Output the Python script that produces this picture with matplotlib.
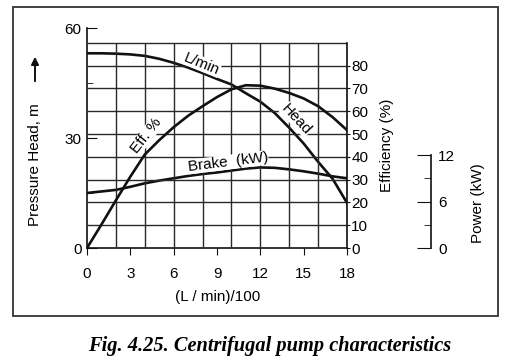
import numpy as np
import matplotlib
matplotlib.use("Agg")
import matplotlib.pyplot as plt
from matplotlib.patches import Rectangle, FancyArrowPatch

plt.rcParams['font.family'] = ['Liberation Sans', 'DejaVu Sans']

# flow in (L/min)/100
flow = [0, 1, 2, 3, 4, 5, 6, 7, 8, 9, 10, 11, 12, 13, 14, 15, 16, 17, 18]
# pressure head, m
head = [53.1, 53.1, 53.0, 52.8, 52.4, 51.6, 50.5, 49.2, 47.7, 46.1,
        44.6, 42.2, 39.9, 36.8, 32.8, 28.5, 23.5, 18.9, 12.3]
# efficiency, %
eff = [0, 10.3, 20.9, 31.3, 41.0, 47.3, 53.0, 58.0, 62.2, 66.2,
       69.6, 71.4, 71.2, 69.9, 68.0, 65.6, 62.2, 57.4, 51.7]
# brake power, kW
brake = [7.1, 7.3, 7.5, 7.9, 8.35, 8.7, 9.0, 9.3, 9.55, 9.75,
         10.0, 10.25, 10.4, 10.35, 10.15, 9.9, 9.6, 9.25, 9.0]

x_ticks = [0, 3, 6, 9, 12, 15, 18]
head_ticks = [0, 30, 60]
eff_ticks = [0, 10, 20, 30, 40, 50, 60, 70, 80]
power_ticks = [0, 6, 12]

fig = plt.figure(figsize=(5.08, 3.62), dpi=100)
W, H = 508, 362


def fx(px):
    return px / W


def fy(py):
    return 1 - py / H


lc = '#111111'
gc = '#2a2a2a'

ax = fig.add_axes([fx(87), fy(248), (347 - 87) / W, (248 - 28) / H])
ax_eff = ax.twinx()
ax_pow = ax.twinx()
# efficiency axes on top: it carries the grid and the curve names
ax.set_zorder(0)
ax_pow.set_zorder(1)
ax_eff.set_zorder(2)
ax_pow.patch.set_visible(False)
ax_eff.patch.set_visible(False)

ax.set_xlim(0, 18)
ax.set_ylim(0, 60)
ax_eff.set_ylim(0, 96.5)
ax_pow.set_ylim(0, 28.4)

ax_eff.vlines(range(2, 19, 2), 0, 90, color=gc, lw=1.0, zorder=1)
ax_eff.hlines(range(10, 100, 10), 0, 18, color=gc, lw=1.0, zorder=1)

bb = dict(boxstyle='square,pad=0.02', fc='white', ec='none')
ax_eff.text(7.96, 80.7, 'L/min', rotation=-22, ha='center', va='center',
            fontsize=11, bbox=bb, zorder=2)
ax_eff.text(14.5, 56.3, 'Head', rotation=-47, ha='center', va='center',
            fontsize=11, bbox=bb, zorder=2)
ax_eff.text(4.1, 49.3, 'Eff. %', rotation=52, ha='center', va='center',
            fontsize=11, bbox=bb, zorder=2)
ax_eff.text(9.76, 37.6, 'Brake  (kW)', rotation=7, ha='center', va='center',
            fontsize=11, bbox=bb, zorder=2)

ax.plot(flow, head, color=lc, lw=1.9)
ax_eff.plot(flow, eff, color=lc, lw=1.9, zorder=3)
ax_pow.plot(flow, brake, color=lc, lw=1.9)

for a in (ax, ax_eff, ax_pow):
    for s in a.spines.values():
        s.set_visible(False)

ax.spines['left'].set_visible(True)
ax.spines['left'].set_bounds(0, 60)
ax.spines['bottom'].set_visible(True)
ax.spines['bottom'].set_bounds(0, 18)
ax_eff.spines['right'].set_visible(True)
ax_eff.spines['right'].set_bounds(0, 90)
ax_pow.spines['right'].set_visible(True)
ax_pow.spines['right'].set_position(('axes', (431 - 87) / 260))
ax_pow.spines['right'].set_bounds(0, 12)
for s in (ax.spines['left'], ax.spines['bottom'], ax_eff.spines['right'],
          ax_pow.spines['right']):
    s.set_color(lc)
    s.set_linewidth(1.2)

ax.set_xticks(x_ticks)
ax.set_yticks(head_ticks)
ax.set_yticks([15, 45], minor=True)
ax.tick_params(axis='y', which='major', direction='in', length=7, pad=4,
               labelsize=11, color=lc)
ax.tick_params(axis='y', which='minor', direction='in', length=4, color=lc)
ax.tick_params(axis='x', which='major', direction='out', length=5, pad=9,
               labelsize=11, color=lc)

ax_eff.set_yticks(eff_ticks)
ax_eff.tick_params(axis='y', direction='out', length=2, pad=1, labelsize=11,
                   color=lc)

ax_pow.set_yticks(power_ticks)
ax_pow.set_yticks([3, 9], minor=True)
ax_pow.tick_params(axis='y', which='major', direction='in', length=10, pad=5,
                   labelsize=11, color=lc)
ax_pow.tick_params(axis='y', which='minor', direction='in', length=5,
                   color=lc)

# axis titles
fig.text(fx(35), fy(165), 'Pressure Head, m', rotation=90, ha='center',
         va='center', fontsize=11)
fig.patches.append(FancyArrowPatch((fx(35), fy(84)), (fx(35), fy(54)),
                                   transform=fig.transFigure,
                                   arrowstyle='-|>', mutation_scale=11,
                                   lw=1.4, color=lc))
fig.text(fx(218), fy(297), '(L / min)/100', ha='center', va='center',
         fontsize=11)
fig.text(fx(387), fy(145), 'Efficiency (%)', rotation=90, ha='center',
         va='center', fontsize=11)
fig.text(fx(478), fy(203), 'Power (kW)', rotation=90, ha='center',
         va='center', fontsize=11)

# frame
fig.patches.append(Rectangle((fx(13), fy(316)), (498 - 13) / W,
                             (316 - 7) / H, transform=fig.transFigure,
                             fill=False, ec='#333333', lw=1.3))

fig.text(fx(270), fy(346), 'Fig. 4.25. Centrifugal pump characteristics',
         ha='center', va='center', fontsize=14.7, family='Liberation Serif',
         weight='bold', style='italic')

fig.savefig('out.png', dpi=100)
